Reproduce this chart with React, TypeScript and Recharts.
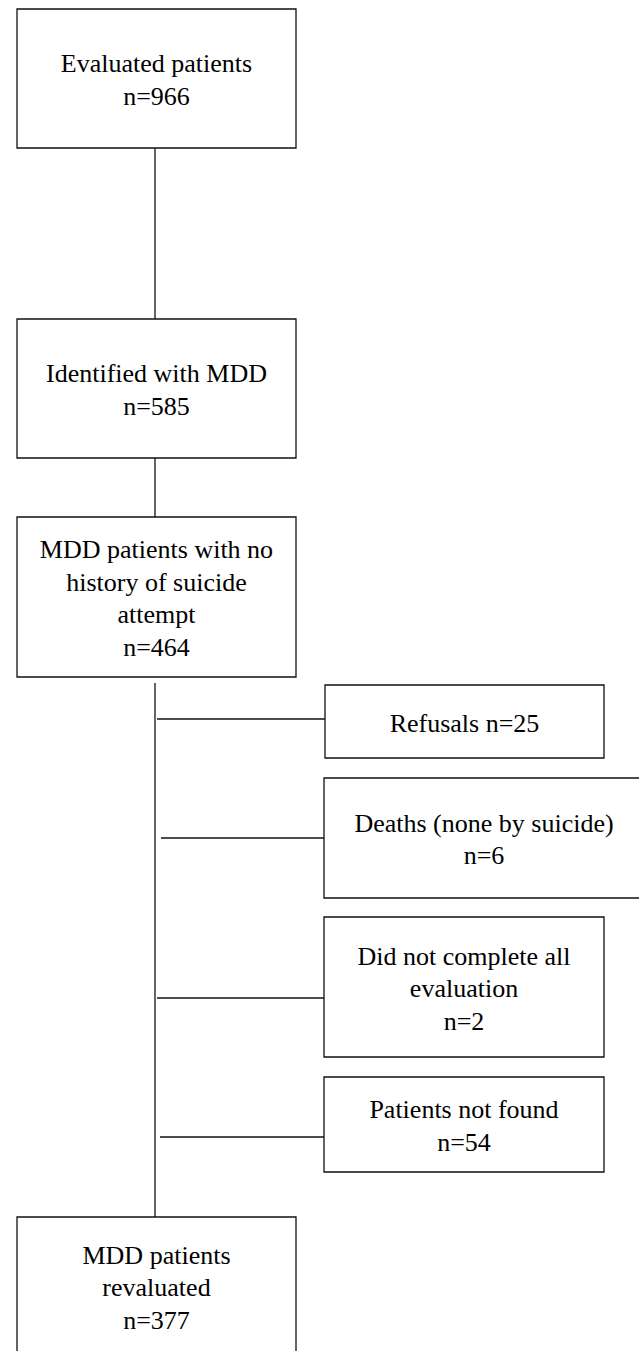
import { ScatterChart, XAxis, YAxis, Scatter, ReferenceArea, ReferenceLine } from 'recharts';

const W = 639;
const H = 1351;

// flow stages, top to bottom then the side exclusions
const stageLabels = [
  ['Evaluated patients'],
  ['Identified with MDD'],
  ['MDD patients with no', 'history of suicide', 'attempt'],
  ['Refusals'],
  ['Deaths (none by suicide)'],
  ['Did not complete all', 'evaluation'],
  ['Patients not found'],
  ['MDD patients', 'revaluated'],
];
const stageCounts = [966, 585, 464, 25, 6, 2, 54, 377];
const countInline = [false, false, false, true, false, false, false, false];

// box extents in chart units (x: left/right, y: top/bottom)
const boxLeft = [17, 17, 17, 325, 324, 324, 324, 17];
const boxRight = [296, 296, 296, 604, 644, 604, 604, 296];
const boxTop = [9, 319, 517, 685, 778, 917, 1077, 1217];
const boxBottom = [148, 458, 677, 758, 898, 1057, 1172, 1355];

// connectors [x1, y1, x2, y2]
const trunk = [
  [155, 148, 155, 319],
  [155, 458, 155, 517],
  [155, 683, 155, 1217],
];
const branches = [
  [157, 719, 325, 719],
  [161, 838, 324, 838],
  [157, 998, 324, 998],
  [160, 1137, 324, 1137],
];

const FONT = '"Liberation Serif", "Times New Roman", serif';
const FONT_SIZE = 26;
const LINE_H = 32.5;

const nodes = stageLabels.map((lines, i) => {
  const n = `n=${stageCounts[i]}`;
  const text = countInline[i]
    ? [...lines.slice(0, -1), `${lines[lines.length - 1]} ${n}`]
    : [...lines, n];
  return {
    x: (boxLeft[i] + boxRight[i]) / 2,
    y: (boxTop[i] + boxBottom[i]) / 2,
    lines: text,
  };
});

function NodeLabel(props: any) {
  const { cx, cy, payload } = props;
  if (cx == null || cy == null || !payload) return null;
  const lines: string[] = payload.lines;
  return (
    <g>
      {lines.map((ln, i) => (
        <text
          key={i}
          x={cx}
          y={cy + 10 + (i - (lines.length - 1) / 2) * LINE_H}
          textAnchor="middle"
          fontFamily={FONT}
          fontSize={FONT_SIZE}
          fill="#000"
        >
          {ln}
        </text>
      ))}
    </g>
  );
}

export default function App() {
  return (
    <div
      style={{
        position: 'absolute',
        left: 0,
        top: 0,
        width: W,
        height: H,
        overflow: 'hidden',
        background: '#fff',
      }}
    >
      <ScatterChart width={W} height={H} margin={{ top: 0, right: 0, bottom: 0, left: 0 }}>
        <XAxis type="number" dataKey="x" domain={[0, W]} allowDataOverflow hide />
        <YAxis type="number" dataKey="y" domain={[0, H]} allowDataOverflow reversed hide />
        {trunk.concat(branches).map((s, i) => (
          <ReferenceLine
            key={`l${i}`}
            segment={[
              { x: s[0], y: s[1] },
              { x: s[2], y: s[3] },
            ]}
            stroke="#111"
            strokeWidth={1.3}
            ifOverflow="visible"
          />
        ))}
        {stageLabels.map((_, i) => (
          <ReferenceArea
            key={`b${i}`}
            x1={boxLeft[i]}
            x2={boxRight[i]}
            y1={boxTop[i]}
            y2={boxBottom[i]}
            fill="#fff"
            fillOpacity={1}
            stroke="#111"
            strokeWidth={1.3}
            ifOverflow="visible"
          />
        ))}
        <Scatter data={nodes} shape={NodeLabel} isAnimationActive={false} />
      </ScatterChart>
    </div>
  );
}
